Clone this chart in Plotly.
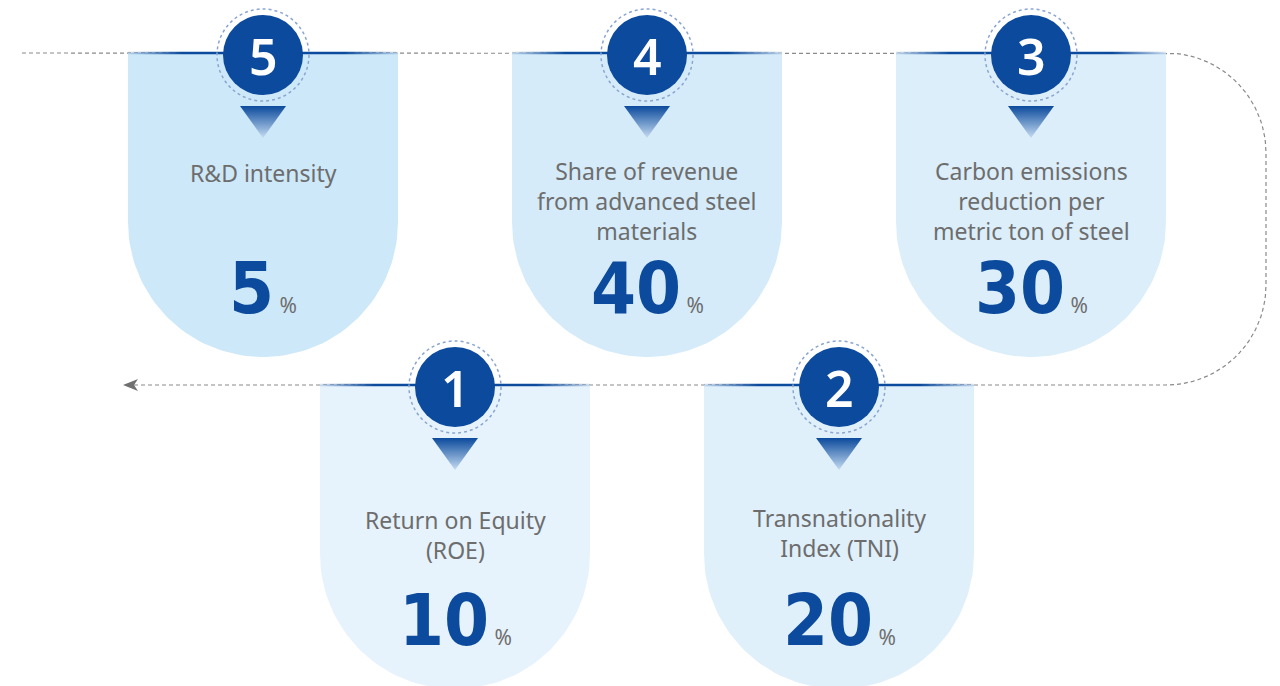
import numpy as np
import plotly.graph_objects as go

# data
badges = ["5", "4", "3", "1", "2"]
labels = [
    "R&D intensity",
    "Share of revenue<br>from advanced steel<br>materials",
    "Carbon emissions<br>reduction per<br>metric ton of steel",
    "Return on Equity<br>(ROE)",
    "Transnationality<br>Index (TNI)",
]
values = [5, 40, 30, 10, 20]

# layout of the cards (pixels)
card_cx = [263, 647, 1031, 455, 839]
card_top = [53, 53, 53, 385, 385]
card_fill = ["#cde8f8", "#d5ebf9", "#dceefa", "#e7f3fc", "#e0f0fb"]
label_y = [155, 153, 153, 502, 500]
value_y = [288, 288, 288, 620, 620]
HALF_W = 135
RECT_H = 169
OFF = 8  # page body margin

DARK = "#0b4a9c"
GREY = "#6d6d6d"

fig = go.Figure()

# dashed flow line (behind the cards)
t1 = np.linspace(-np.pi / 2, 0, 30)
t2 = np.linspace(0, np.pi / 2, 30)
px_ = [22, 1166] + list(1166 + 100 * np.cos(t1)) + [1266, 1266] + list(1166 + 100 * np.cos(t2)) + [131]
py_ = [53, 53] + list(153 + 100 * np.sin(t1)) + [153, 285] + list(285 + 100 * np.sin(t2)) + [385]
fig.add_trace(go.Scatter(x=px_, y=py_, mode="lines",
                         line=dict(color="#8a8a8a", width=1.2, dash="4px,3px"),
                         hoverinfo="skip"))
fig.add_trace(go.Scatter(x=[123, 138, 134, 138, 123], y=[385, 379, 385, 391, 385],
                         mode="lines", fill="toself", fillcolor="#707070",
                         line=dict(width=0, color="#707070"), hoverinfo="skip"))

for i in range(len(badges)):
    cx, top = card_cx[i], card_top[i]
    x0, x1 = cx - HALF_W, cx + HALF_W
    cy = top + RECT_H
    th = np.linspace(0, np.pi, 80)
    xs = [x0, x1] + list(cx + HALF_W * np.cos(th)) + [x0]
    ys = [top, top] + list(cy + HALF_W * np.sin(th)) + [top]
    fig.add_trace(go.Scatter(x=xs, y=ys, mode="lines", fill="toself",
                             fillcolor=card_fill[i], line=dict(width=0),
                             hoverinfo="skip"))
    # top edge
    fig.add_trace(go.Scatter(x=[x0, x1, x1, x0, x0], y=[top - 1.2, top - 1.2, top + 1.2, top + 1.2, top - 1.2],
                             mode="lines", fill="toself", line=dict(width=0),
                             fillgradient=dict(type="horizontal",
                                               colorscale=[[0, "rgba(11,74,156,0.15)"], [0.2, DARK],
                                                           [0.8, DARK], [1, "rgba(11,74,156,0.15)"]]),
                             hoverinfo="skip"))
    # pointer triangle
    fig.add_trace(go.Scatter(x=[cx - 23, cx + 23, cx, cx - 23], y=[top + 53, top + 53, top + 85, top + 53],
                             mode="lines", fill="toself", line=dict(width=0),
                             fillgradient=dict(type="vertical",
                                               colorscale=[[0, "#c6dcf2"], [1, DARK]]),
                             hoverinfo="skip"))
    # badge
    fig.add_shape(type="circle", x0=cx - 46, x1=cx + 46, y0=top - 44, y1=top + 48,
                  line=dict(color="#8aa6d0", width=1.5, dash="dot"), layer="above")
    fig.add_shape(type="circle", x0=cx - 40, x1=cx + 40, y0=top - 38, y1=top + 42,
                  fillcolor=DARK, line=dict(width=0), layer="above")
    fig.add_annotation(x=cx, y=top + 3, text=badges[i], showarrow=False,
                       font=dict(family="Noto Sans", size=50, color="white", weight=600),
                       xanchor="center", yanchor="middle")
    fig.add_annotation(x=cx, y=label_y[i], text=labels[i], showarrow=False,
                       font=dict(family="Noto Sans", size=23, color=GREY),
                       xanchor="center", yanchor="top")
    fig.add_annotation(x=cx, y=value_y[i],
                       text=f"<b>{values[i]}</b><span style='font-size:21px;font-family:Noto Sans;color:{GREY};font-weight:normal'> %</span>",
                       showarrow=False,
                       font=dict(family="DejaVu Sans Condensed, Roboto", size=72, color=DARK),
                       xanchor="center", yanchor="middle")

fig.update_xaxes(range=[OFF, 1280 + OFF], visible=False, fixedrange=True)
fig.update_yaxes(range=[686 + OFF, OFF], visible=False, fixedrange=True)
fig.update_layout(
    width=1280, height=686,
    margin=dict(l=0, r=0, t=0, b=0),
    plot_bgcolor="white", paper_bgcolor="white",
    showlegend=False,
)

fig.write_html("out.html")
